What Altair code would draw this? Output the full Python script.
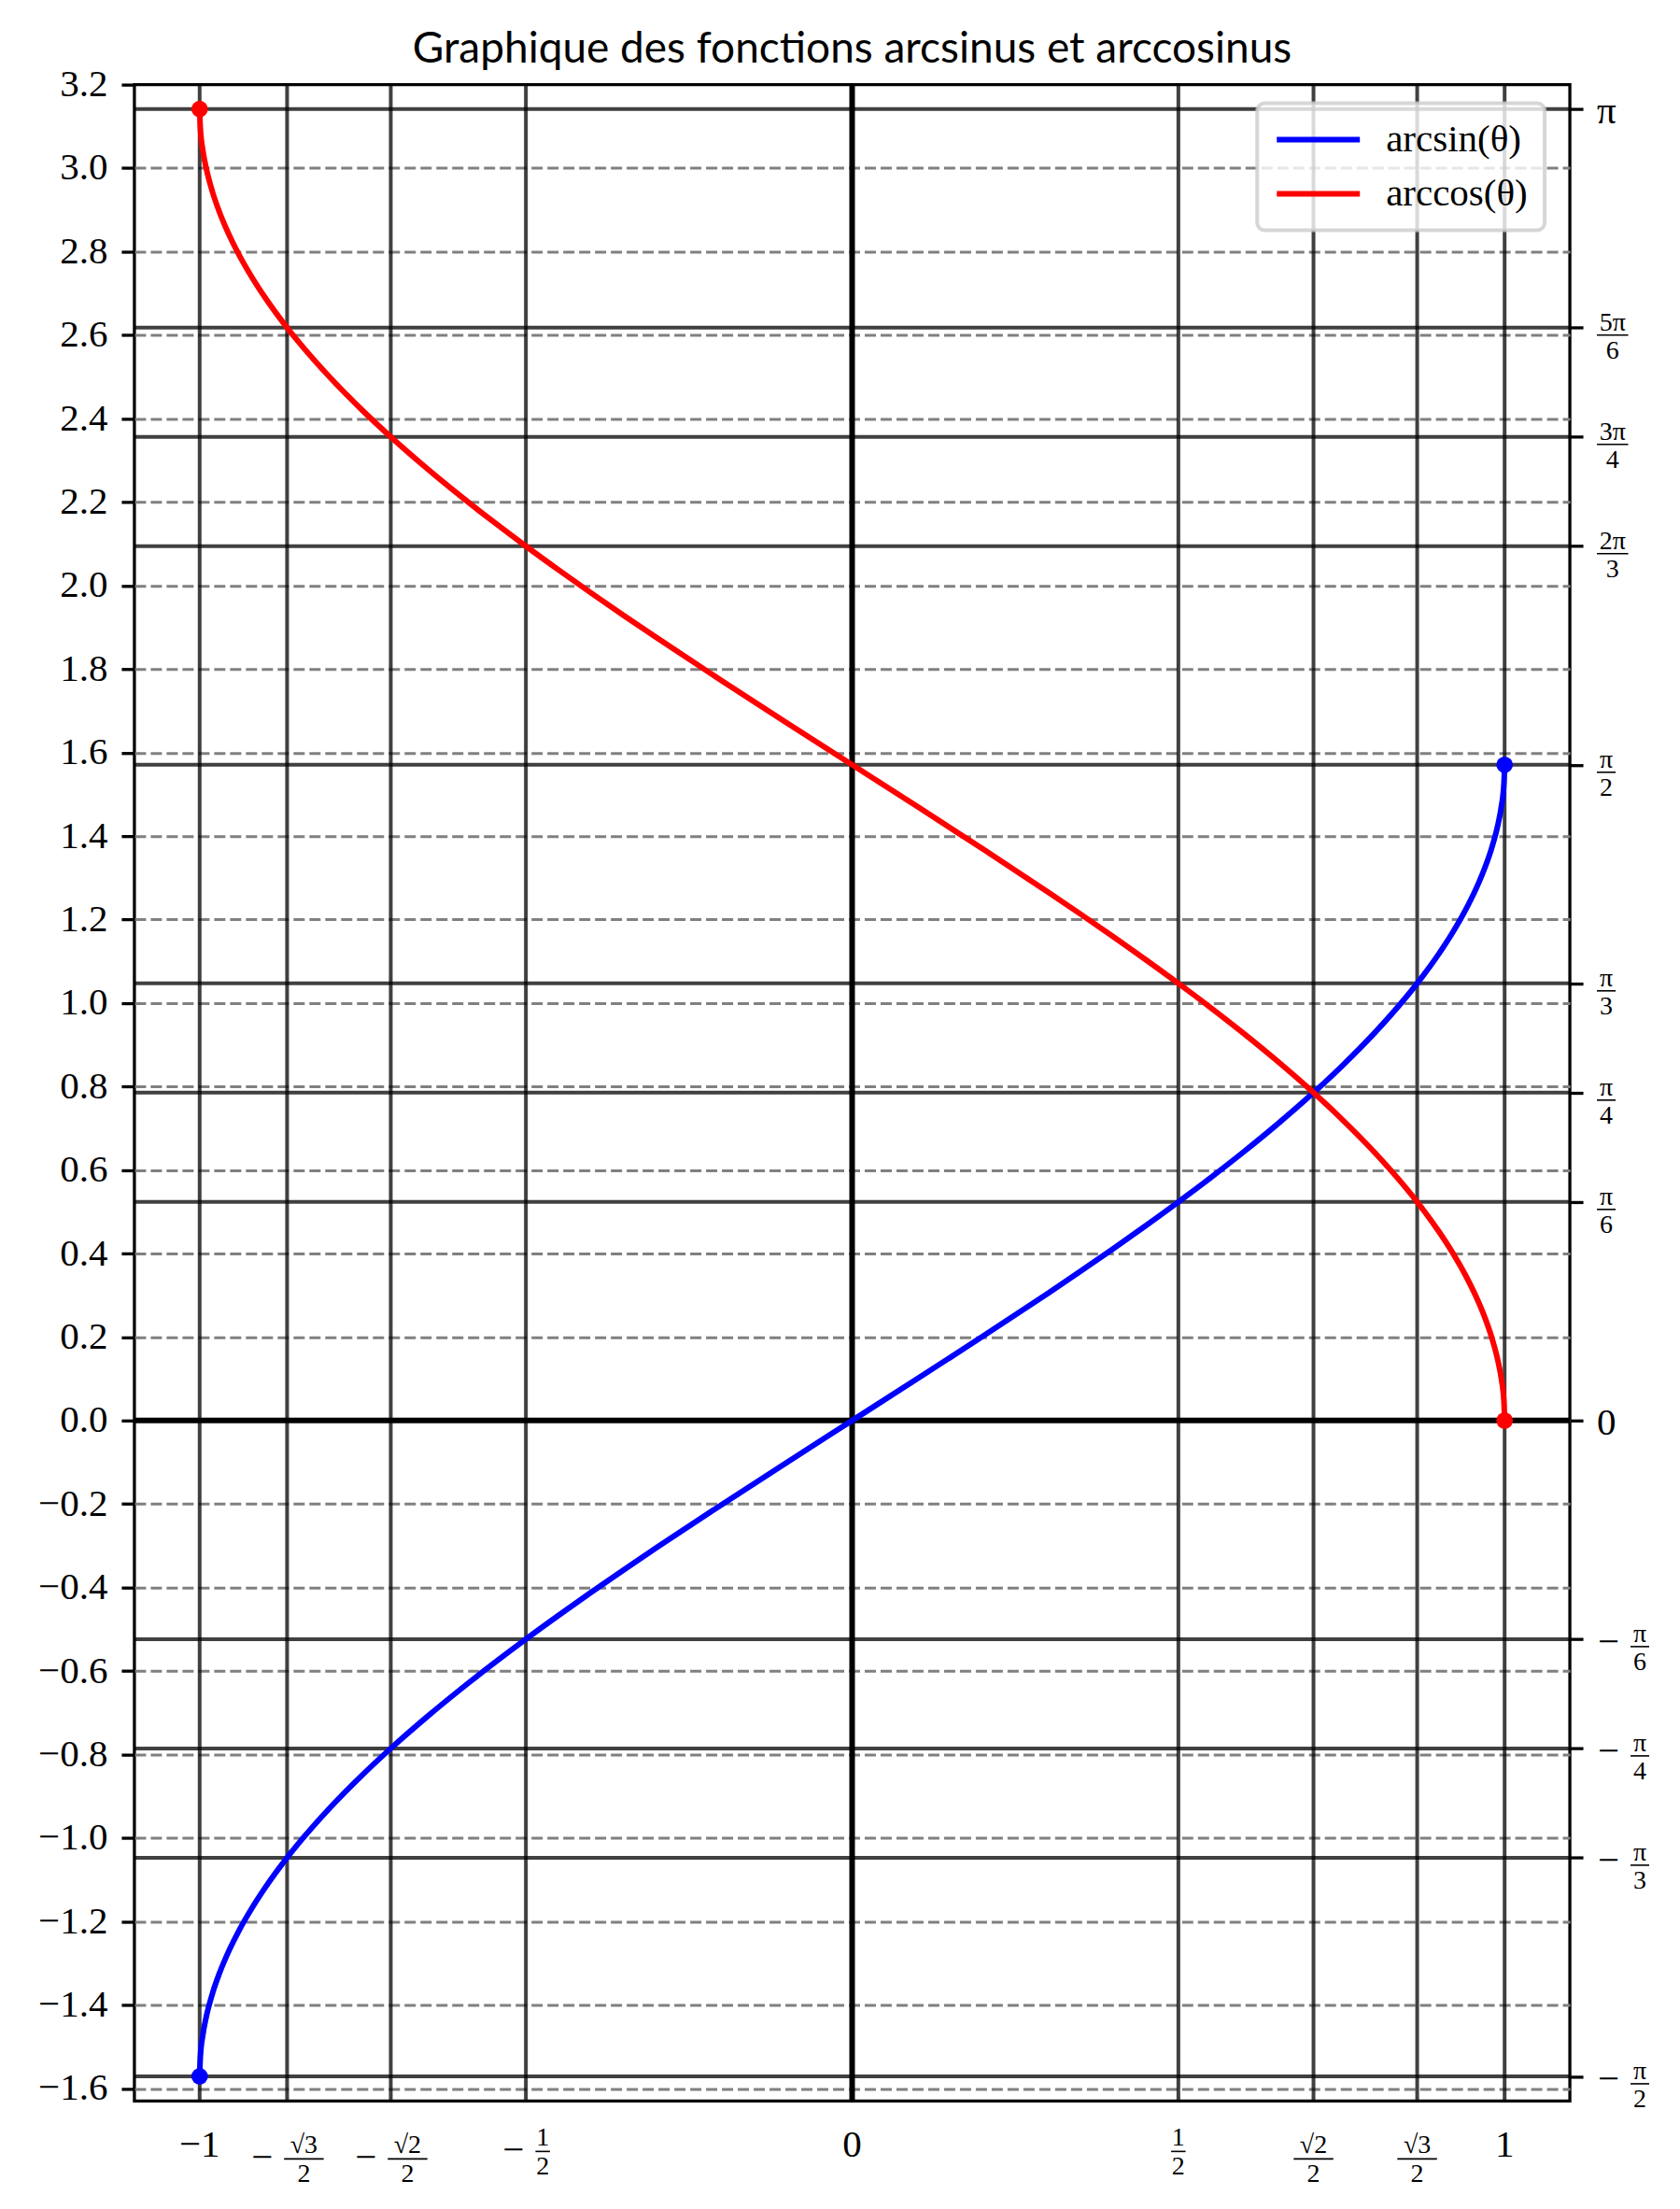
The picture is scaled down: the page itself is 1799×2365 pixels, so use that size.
import altair as alt
import pandas as pd

TITLE = "Graphique des fonctions arcsinus et arccosinus"
SERIES = ["arcsin(θ)", "arccos(θ)"]
COLORS = ["#0000ff", "#ff0000"]

THETA = [-1.0, -0.999, -0.995, -0.99, -0.98, -0.97, -0.96, -0.94, -0.92, -0.9,
         -0.866, -0.85, -0.8, -0.75, -0.7071, -0.65, -0.6, -0.55, -0.5, -0.45,
         -0.4, -0.35, -0.3, -0.2, -0.1, 0.0, 0.1, 0.2, 0.3, 0.35, 0.4, 0.45, 0.5,
         0.55, 0.6, 0.65, 0.7071, 0.75, 0.8, 0.85, 0.866, 0.9, 0.92, 0.94, 0.96,
         0.97, 0.98, 0.99, 0.995, 0.999, 1.0]
ARCSIN = [-1.5708, -1.5261, -1.4708, -1.4293, -1.3705, -1.3252, -1.2870, -1.2226,
          -1.1681, -1.1198, -1.0471, -1.0160, -0.9273, -0.8481, -0.7854, -0.7076,
          -0.6435, -0.5824, -0.5236, -0.4668, -0.4115, -0.3576, -0.3047, -0.2014,
          -0.1002, 0.0, 0.1002, 0.2014, 0.3047, 0.3576, 0.4115, 0.4668, 0.5236,
          0.5824, 0.6435, 0.7076, 0.7854, 0.8481, 0.9273, 1.0160, 1.0471, 1.1198,
          1.1681, 1.2226, 1.2870, 1.3252, 1.3705, 1.4293, 1.4708, 1.5261, 1.5708]
ARCCOS = [3.1416, 3.0969, 3.0416, 3.0001, 2.9413, 2.8960, 2.8578, 2.7934, 2.7389,
          2.6906, 2.6179, 2.5868, 2.4981, 2.4189, 2.3562, 2.2784, 2.2143, 2.1532,
          2.0944, 2.0376, 1.9823, 1.9284, 1.8755, 1.7722, 1.6710, 1.5708, 1.4706,
          1.3694, 1.2661, 1.2132, 1.1593, 1.1040, 1.0472, 0.9884, 0.9273, 0.8632,
          0.7854, 0.7227, 0.6435, 0.5548, 0.5237, 0.4510, 0.4027, 0.3482, 0.2838,
          0.2456, 0.2003, 0.1415, 0.1000, 0.0447, 0.0]

X_DOMAIN = [-1.1, 1.1]
Y_DOMAIN = [-1.63, 3.2]

Y_GRID = [-1.6, -1.4, -1.2, -1.0, -0.8, -0.6, -0.4, -0.2, 0.0, 0.2, 0.4, 0.6, 0.8,
          1.0, 1.2, 1.4, 1.6, 1.8, 2.0, 2.2, 2.4, 2.6, 2.8, 3.0, 3.2]

X_SPECIAL = [-1.0, -0.8660, -0.7071, -0.5, 0.0, 0.5, 0.7071, 0.8660, 1.0]
X_SIGN = ["−", "−", "−", "−", "", "", "", "", ""]
X_NUM = ["1", "√3", "√2", "1", "0", "1", "√2", "√3", "1"]
X_DEN = ["", "2", "2", "2", "", "2", "2", "2", ""]

Y_SPECIAL = [3.1416, 2.6180, 2.3562, 2.0944, 1.5708, 1.0472, 0.7854, 0.5236, 0.0,
             -0.5236, -0.7854, -1.0472, -1.5708]
Y_SIGN = ["", "", "", "", "", "", "", "", "", "−", "−", "−", "−"]
Y_NUM = ["π", "5π", "3π", "2π", "π", "π", "π", "π", "0", "π", "π", "π", "π"]
Y_DEN = ["", "6", "4", "3", "2", "3", "4", "6", "", "6", "4", "3", "2"]

W, H = 1538, 2160
SERIF = "Liberation Serif"
BIG, SMALL = 41, 28

# data units per screen pixel, used to place tick-label parts next to the axes
XU = (X_DOMAIN[1] - X_DOMAIN[0]) / W
YU = (Y_DOMAIN[1] - Y_DOMAIN[0]) / H

xs = alt.Scale(domain=X_DOMAIN, nice=False, zero=False)
ys = alt.Scale(domain=Y_DOMAIN, nice=False, zero=False)


def bar_width(num, den):
    widths = {"√": 27, "π": 18}
    w = max(sum(widths.get(c, 13.5) for c in num), sum(widths.get(c, 13.5) for c in den))
    return w + 2


def at(x, y, dx, dy):
    return x + dx * XU, y - dy * YU


plain_bottom, plain_right, minus_rows, frac_rows, bar_rows = [], [], [], [], []


def add_fraction(x0, y0, cdx, bar_dy, num, den, bw, num_gap):
    px, py = at(x0, y0, cdx, bar_dy - num_gap)
    frac_rows.append(dict(x=px, y=py, text=num))
    px, py = at(x0, y0, cdx, bar_dy + 25)
    frac_rows.append(dict(x=px, y=py, text=den))
    xa, yb = at(x0, y0, cdx - bw / 2, bar_dy)
    xb, _ = at(x0, y0, cdx + bw / 2, bar_dy)
    bar_rows.append(dict(x=xa, x2=xb, y=yb))


for t, s, n, d in zip(X_SPECIAL, X_SIGN, X_NUM, X_DEN):
    y0 = Y_DOMAIN[0]
    if d == "":
        px, py = at(t, y0, 0, 60)
        plain_bottom.append(dict(x=px, y=py, text=s + n))
        continue
    bw = bar_width(n, d)
    bar_dy = 62 if "√" in n else 54
    fdx = 0
    if s:
        tot = 25 + 11 + bw
        fdx = tot / 2 - bw / 2
        px, py = at(t, y0, -tot / 2 + 12.5, bar_dy)
        minus_rows.append(dict(x=px, y=py, text=s))
    add_fraction(t, y0, fdx, bar_dy, n, d, bw, 6)

for t, s, n, d in zip(Y_SPECIAL, Y_SIGN, Y_NUM, Y_DEN):
    x0 = X_DOMAIN[1]
    if d == "":
        px, py = at(x0, t, 29, 15)
        plain_right.append(dict(x=px, y=py, text=s + n))
        continue
    bw = bar_width(n, d)
    if s:
        px, py = at(x0, t, 41.5, 4)
        minus_rows.append(dict(x=px, y=py, text=s))
        fdx = 29 + 25 + 11 + bw / 2
    else:
        fdx = 29 + bw / 2
    add_fraction(x0, t, fdx, 8, n, d, bw, 5)

curves_df = pd.DataFrame({
    "theta": THETA + THETA,
    "value": ARCSIN + ARCCOS,
    "series": [SERIES[0]] * len(THETA) + [SERIES[1]] * len(THETA),
})
ends_df = pd.DataFrame({
    "theta": [THETA[0], THETA[-1], THETA[0], THETA[-1]],
    "value": [ARCSIN[0], ARCSIN[-1], ARCCOS[0], ARCCOS[-1]],
    "series": [SERIES[0], SERIES[0], SERIES[1], SERIES[1]],
})
vr_df = pd.DataFrame({"x": [v for v in X_SPECIAL if v != 0]})
hr_df = pd.DataFrame({"y": [v for v in Y_SPECIAL if v != 0]})
zero_df = pd.DataFrame({"v": [0.0]})

x_axis = alt.Axis(orient="bottom", values=X_SPECIAL, labels=False, ticks=True, tickSize=14,
                  tickWidth=3.3, tickColor="black", domain=False, grid=False, title=None)
left_axis = alt.Axis(orient="left", values=Y_GRID, format=".1f", labelFont=SERIF,
                     labelFontSize=BIG, labelColor="black", labelPadding=15, tickSize=14,
                     tickWidth=3.3, tickColor="black", domain=False, grid=True,
                     gridDash=[12, 5], gridColor="#808080", gridWidth=3, title=None,
                     gridOpacity=alt.condition("datum.value > 3.19", alt.value(0), alt.value(1)),
                     labelFlush=False, labelOverlap=False, labelBound=False)
right_axis = alt.Axis(orient="right", values=Y_SPECIAL, labels=False, ticks=True, tickSize=14,
                      tickWidth=3.3, tickColor="black", domain=False, grid=False, title=None)

vrules = alt.Chart(vr_df).mark_rule(color="black", opacity=0.75, strokeWidth=4).encode(
    x=alt.X("x:Q", scale=xs, axis=None))
hrules = alt.Chart(hr_df).mark_rule(color="black", opacity=0.75, strokeWidth=4).encode(
    y=alt.Y("y:Q", scale=ys, axis=right_axis))
zero_v = alt.Chart(zero_df).mark_rule(color="black", strokeWidth=6).encode(
    x=alt.X("v:Q", scale=xs, axis=None))
zero_h = alt.Chart(zero_df).mark_rule(color="black", strokeWidth=6).encode(
    y=alt.Y("v:Q", scale=ys, axis=None))

legend = alt.Legend(title=None, orient="none", legendX=1203, legendY=20, symbolType="stroke",
                    symbolSize=7921, symbolStrokeWidth=6, labelFont=SERIF, labelFontSize=BIG,
                    labelColor="black", labelOffset=25, padding=18, rowPadding=16,
                    clipHeight=42,
                    fillColor="rgba(255,255,255,0.8)", strokeColor="rgba(204,204,204,0.8)",
                    cornerRadius=8)

curves = alt.Chart(curves_df).mark_line(strokeWidth=6, interpolate="monotone").encode(
    x=alt.X("theta:Q", scale=xs, axis=x_axis),
    y=alt.Y("value:Q", scale=ys, axis=left_axis),
    color=alt.Color("series:N", scale=alt.Scale(domain=SERIES, range=COLORS), legend=legend),
)
ends = alt.Chart(ends_df).mark_circle(size=314, opacity=1).encode(
    x=alt.X("theta:Q", scale=xs, axis=None),
    y=alt.Y("value:Q", scale=ys, axis=None),
    color=alt.Color("series:N", scale=alt.Scale(domain=SERIES, range=COLORS), legend=None),
)


def text_layer(rows, size, align, baseline):
    return alt.Chart(pd.DataFrame(rows)).mark_text(
        font=SERIF, fontSize=size, align=align, baseline=baseline, color="black").encode(
        x=alt.X("x:Q", scale=xs, axis=None),
        y=alt.Y("y:Q", scale=ys, axis=None),
        text="text:N",
    )


lab_bottom = text_layer(plain_bottom, BIG, "center", "alphabetic")
lab_right = text_layer(plain_right, BIG, "left", "alphabetic")
lab_minus = text_layer(minus_rows, BIG, "center", "middle")
lab_frac = text_layer(frac_rows, SMALL, "center", "alphabetic")
bars = alt.Chart(pd.DataFrame(bar_rows)).mark_rule(color="black", strokeWidth=1.6).encode(
    x=alt.X("x:Q", scale=xs, axis=None),
    x2="x2:Q",
    y=alt.Y("y:Q", scale=ys, axis=None),
)

chart = alt.layer(
    vrules, hrules, zero_v, zero_h, curves, ends,
    lab_bottom, lab_right, lab_minus, lab_frac, bars
).resolve_axis(y="independent").properties(
    width=W, height=H,
    title=alt.TitleParams(TITLE, font="Lato", fontSize=46, fontWeight="normal", color="black",
                          anchor="middle", offset=16, dy=23),
    padding={"left": 136, "top": 82, "right": 110, "bottom": 105},
    autosize=alt.AutoSizeParams(type="none"),
).configure_view(stroke="black", strokeWidth=3.3).configure_legend(strokeWidth=4)

chart.save("out.html", embed_options={"renderer": "svg", "actions": False})
